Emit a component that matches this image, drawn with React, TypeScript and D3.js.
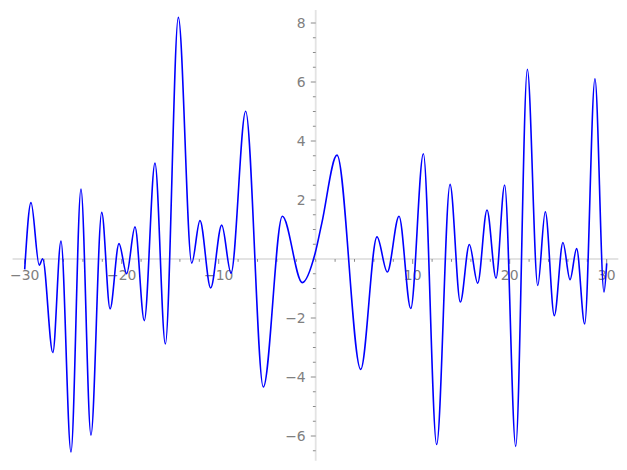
import React from "react";
import * as d3 from "d3";

// Curve points (extrema and a few shoulder points)
const curveX = [
  -30, -29.35, -28.5, -28.15, -27.1, -26.26, -25.23, -24.2, -23.17, -22.06,
  -21.2, -20.28, -19.49, -18.63, -17.67, -16.57, -15.5, -14.16, -12.78, -11.93,
  -10.83, -9.69, -8.73, -7.22, -5.4, -3.44, -1.38, -0.07, 0.62, 2.2,
  4.64, 6.32, 7.38, 8.59, 9.8, 11.1, 12.47, 13.85, 14.91, 15.84,
  16.7, 17.66, 18.59, 19.48, 20.62, 21.82, 22.89, 23.67, 24.6, 25.49,
  26.22, 26.9, 27.73, 28.79, 29.72, 30,
];
const curveY = [
  -0.35, 1.91, -0.21, 0.01, -3.17, 0.61, -6.54, 2.37, -5.97, 1.58,
  -1.69, 0.52, -0.5, 1.09, -2.09, 3.25, -2.88, 8.19, -0.14, 1.3,
  -0.98, 1.15, -0.48, 5.01, -4.34, 1.45, -0.8, 0.18, 1.2, 3.52,
  -3.74, 0.75, -0.44, 1.45, -1.68, 3.57, -6.29, 2.53, -1.46, 0.49,
  -0.82, 1.66, -0.65, 2.51, -6.35, 6.43, -0.9, 1.6, -1.92, 0.56,
  -0.7, 0.35, -2.2, 6.11, -1.12, -0.15,
];

const xMajorTicks = [-30, -20, -10, 10, 20, 30];
const xMinorTicks = [-28, -26, -24, -22, -18, -16, -14, -12, -8, -6, -4, -2, 0, 2, 4, 6, 8, 12, 14, 16, 18, 22, 24, 26, 28];
const yMajorTicks = [-6, -4, -2, 2, 4, 6, 8];
const yMinorTicks = [-6.5, -5.5, -5, -4.5, -3.5, -3, -2.5, -1.5, -1, -0.5, 0, 0.5, 1, 1.5, 2.5, 3, 3.5, 4.5, 5, 5.5, 6.5, 7, 7.5];
const xAxisExtent = [-31.25, 31.2];
const yAxisExtent = [8.44, -6.84];

const W = 627;
const H = 470;

export default function App() {
  const x = d3.scaleLinear().domain([-30, 30]).range([24.7, 606.7]);
  const y = d3.scaleLinear().domain([0, 8]).range([259, 23]);

  const pts: [number, number][] = curveX.map((v, i) => [v, curveY[i]]);
  const line = d3
    .line<[number, number]>()
    .x((d) => x(d[0]))
    .y((d) => y(d[1]))
    .curve(d3.curveMonotoneX);

  const axisCol = "#e3e3e3";
  const tickCol = "#8a8a8a";
  const labelCol = "#808080";
  const fs = 13.9;
  const minus = (v: number) => (v < 0 ? "\u2212" + Math.abs(v) : String(v));

  return (
    <svg
      width={W}
      height={H}
      style={{ position: "absolute", left: 0, top: 0, background: "#fff" }}
      fontFamily="DejaVu Sans"
    >
      <rect width={W} height={H} fill="#fff" />
      {/* axes lines */}
      <line x1={x(xAxisExtent[0])} x2={x(xAxisExtent[1])} y1={y(0)} y2={y(0)} stroke={axisCol} strokeWidth={1.8} />
      <line x1={x(0)} x2={x(0)} y1={y(yAxisExtent[0])} y2={y(yAxisExtent[1])} stroke={axisCol} strokeWidth={1.8} />
      {/* x ticks */}
      {xMajorTicks.map((t) => (
        <g key={"xM" + t}>
          <line x1={x(t)} x2={x(t)} y1={y(0)} y2={y(0) + 4.9} stroke={tickCol} strokeWidth={1} />
          <text x={x(t)} y={y(0) + 20.5} textAnchor="middle" fontSize={fs} fill={labelCol}>
            {minus(t)}
          </text>
        </g>
      ))}
      {xMinorTicks.map((t) => (
        <line key={"xm" + t} x1={x(t)} x2={x(t)} y1={y(0)} y2={y(0) + 2.8} stroke={tickCol} strokeWidth={1} />
      ))}
      {/* y ticks */}
      {yMajorTicks.map((t) => (
        <g key={"yM" + t}>
          <line x1={x(0) - 4.9} x2={x(0)} y1={y(t)} y2={y(t)} stroke={tickCol} strokeWidth={1} />
          <text x={x(0) - 10} y={y(t)} dy="0.36em" textAnchor="end" fontSize={fs} fill={labelCol}>
            {minus(t)}
          </text>
        </g>
      ))}
      {yMinorTicks.map((t) => (
        <line key={"ym" + t} x1={x(0) - 2.8} x2={x(0)} y1={y(t)} y2={y(t)} stroke={tickCol} strokeWidth={1} />
      ))}
      {/* curve */}
      <path d={line(pts) || ""} fill="none" stroke="#0000ff" strokeWidth={1.6} />
    </svg>
  );
}
